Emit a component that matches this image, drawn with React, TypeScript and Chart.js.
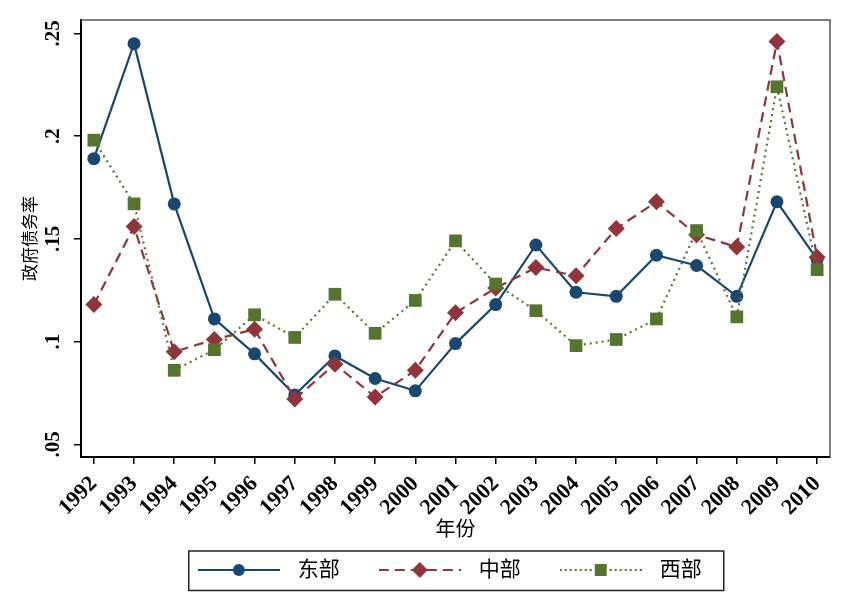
import React, { useEffect, useRef } from 'react';
import { Chart, registerables } from 'chart.js';

Chart.register(...registerables);

const years = [1992, 1993, 1994, 1995, 1996, 1997, 1998, 1999, 2000, 2001, 2002, 2003, 2004, 2005, 2006, 2007, 2008, 2009, 2010];
const east = [0.189, 0.245, 0.167, 0.111, 0.094, 0.074, 0.093, 0.082, 0.076, 0.099, 0.118, 0.147, 0.124, 0.122, 0.142, 0.137, 0.122, 0.168, 0.140];
const central = [0.118, 0.156, 0.095, 0.101, 0.106, 0.072, 0.089, 0.073, 0.086, 0.114, 0.126, 0.136, 0.132, 0.155, 0.168, 0.152, 0.146, 0.246, 0.141];
const west = [0.198, 0.167, 0.086, 0.096, 0.113, 0.102, 0.123, 0.104, 0.120, 0.149, 0.128, 0.115, 0.098, 0.101, 0.111, 0.154, 0.112, 0.224, 0.135];
const yTickValues = [0.05, 0.1, 0.15, 0.2, 0.25];
const yTickLabels = ['.05', '.1', '.15', '.2', '.25'];
const seriesNames = ['东部', '中部', '西部'];
const xTitle = '年份';
const yTitle = '政府债务率';

const NAVY = '#1a476f';
const MAROON = '#90353b';
const GREEN = '#55752f';

const SERIF = '"Liberation Serif", "Times New Roman", serif';
const CJK = '"Liberation Serif", "Noto Sans CJK SC", serif';

function makeLegendSample(color: string, dash: number[], style: string) {
  const c = document.createElement('canvas');
  c.width = 82;
  c.height = 18;
  const ctx = c.getContext('2d')!;
  ctx.strokeStyle = color;
  ctx.lineWidth = 2;
  ctx.setLineDash(dash);
  ctx.beginPath();
  ctx.moveTo(0, 9);
  ctx.lineTo(82, 9);
  ctx.stroke();
  ctx.setLineDash([]);
  ctx.fillStyle = color;
  ctx.beginPath();
  if (style === 'circle') {
    ctx.arc(41, 9, 6, 0, Math.PI * 2);
  } else if (style === 'rectRot') {
    ctx.moveTo(41, 1);
    ctx.lineTo(49, 9);
    ctx.lineTo(41, 17);
    ctx.lineTo(33, 9);
    ctx.closePath();
  } else {
    ctx.rect(35, 3, 12, 12);
  }
  ctx.fill();
  return c;
}

const framePlugin = {
  id: 'stataFrame',
  afterLayout(chart: any) {
    const lg = chart.legend;
    if (!lg) return;
    const h = lg.height;
    lg.top = 528;
    lg.bottom = 528 + h;
    lg.left = 146;
    lg.right = 746;
  },
  beforeDatasetsDraw(chart: any) {
    const { ctx, chartArea: a } = chart;
    ctx.save();
    ctx.strokeStyle = '#555';
    ctx.lineWidth = 1.5;
    ctx.beginPath();
    ctx.moveTo(a.left, a.top);
    ctx.lineTo(a.right, a.top);
    ctx.lineTo(a.right, a.bottom);
    ctx.stroke();
    ctx.restore();
  },
  afterDraw(chart: any) {
    const lg = chart.legend;
    if (!lg || !lg.legendHitBoxes || !lg.legendHitBoxes.length) return;
    const hbs = lg.legendHitBoxes;
    const first = hbs[0];
    const last = hbs[hbs.length - 1];
    const ctx = chart.ctx;
    ctx.save();
    ctx.strokeStyle = '#222';
    ctx.lineWidth = 1.5;
    const l = first.left - 1.5;
    const r = last.left + last.width + 22;
    const t = first.top - 8.5;
    const b = first.top + first.height + 10;
    ctx.strokeRect(l, t, r - l, b - t);
    ctx.restore();
  },
};

export default function App() {
  const ref = useRef<HTMLCanvasElement>(null);

  useEffect(() => {
    if (!ref.current) return;
    const samples = [
      makeLegendSample(NAVY, [], 'circle'),
      makeLegendSample(MAROON, [10, 6], 'rectRot'),
      makeLegendSample(GREEN, [2, 3], 'rect'),
    ];
    const colors = [NAVY, MAROON, GREEN];

    const xTickFont = { family: SERIF, size: 22, weight: 'bold' as const };
    const yTickFont = { family: SERIF, size: 21, weight: 'bold' as const };
    const gridOpts = {
      display: true,
      drawOnChartArea: false,
      drawTicks: true,
      tickLength: 7,
      color: '#000',
      lineWidth: 1.5,
    };
    const borderOpts = { display: true, color: '#000', width: 2 };

    const chart = new Chart(ref.current, {
      type: 'line',
      data: {
        datasets: [
          {
            label: seriesNames[0],
            data: years.map((x, i) => ({ x, y: east[i] })),
            borderColor: NAVY,
            backgroundColor: NAVY,
            borderWidth: 2.2,
            pointStyle: 'circle',
            pointRadius: 6.5,
            pointBorderWidth: 0,
            pointBackgroundColor: NAVY,
            order: 2,
          },
          {
            label: seriesNames[1],
            data: years.map((x, i) => ({ x, y: central[i] })),
            borderColor: MAROON,
            backgroundColor: MAROON,
            borderWidth: 2.2,
            borderDash: [10, 6],
            pointStyle: 'rectRot',
            pointRadius: 8.5,
            pointBorderWidth: 0,
            pointBackgroundColor: MAROON,
            order: 1,
          },
          {
            label: seriesNames[2],
            data: years.map((x, i) => ({ x, y: west[i] })),
            borderColor: GREEN,
            backgroundColor: GREEN,
            borderWidth: 2.2,
            borderDash: [2, 4],
            pointStyle: 'rect',
            pointRadius: 9,
            pointBorderWidth: 0,
            pointBackgroundColor: GREEN,
            order: 0,
          },
        ],
      },
      options: {
        animation: false,
        responsive: false,
        devicePixelRatio: 1,
        layout: { padding: { left: 0, top: 20, right: 18, bottom: 9.5 } },
        plugins: {
          tooltip: { enabled: false },
          legend: {
            display: true,
            position: 'bottom',
            align: 'center',
            labels: {
              usePointStyle: true,
              pointStyleWidth: 97,
              padding: 31.5,
              color: '#000',
              font: { family: CJK, size: 21 },
              generateLabels: () =>
                seriesNames.map((name, i) => ({
                  text: name,
                  pointStyle: samples[i] as any,
                  fillStyle: colors[i],
                  strokeStyle: colors[i],
                  lineWidth: 0,
                  hidden: false,
                  datasetIndex: i,
                  fontColor: '#000',
                })),
            },
          },
        },
        scales: {
          x: {
            type: 'linear',
            min: 1991.68,
            max: 2010.32,
            afterBuildTicks: (s: any) => {
              s.ticks = years.map((v) => ({ value: v }));
            },
            afterFit: (s: any) => {
              s.height = 86;
            },
            ticks: {
              autoSkip: false,
              maxRotation: 45,
              minRotation: 45,
              padding: 7,
              color: '#000',
              font: xTickFont,
              callback: (v: any) => String(v),
            },
            grid: gridOpts,
            border: borderOpts,
            title: {
              display: true,
              text: xTitle,
              color: '#000',
              font: { family: CJK, size: 20 },
              padding: { top: 0, bottom: 0 },
            },
          },
          y: {
            type: 'linear',
            min: 0.0438,
            max: 0.2565,
            afterBuildTicks: (s: any) => {
              s.ticks = yTickValues.map((v) => ({ value: v }));
            },
            afterFit: (s: any) => {
              s.width = 81;
            },
            ticks: {
              minRotation: 90,
              maxRotation: 90,
              crossAlign: 'center',
              padding: 7,
              color: '#000',
              font: yTickFont,
              callback: (v: any) => {
                const i = yTickValues.indexOf(v);
                return i >= 0 ? yTickLabels[i] : '';
              },
            },
            grid: gridOpts,
            border: borderOpts,
            title: {
              display: true,
              text: yTitle,
              color: '#000',
              font: { family: CJK, size: 17 },
              padding: { top: 21, bottom: 0 },
            },
          },
        },
      } as any,
      plugins: [framePlugin],
    });
    return () => chart.destroy();
  }, []);

  return (
    <div style={{ position: 'fixed', left: 0, top: 0, width: 848, height: 615, background: '#fff' }}>
      <canvas ref={ref} width={848} height={615} style={{ display: 'block' }} />
    </div>
  );
}
